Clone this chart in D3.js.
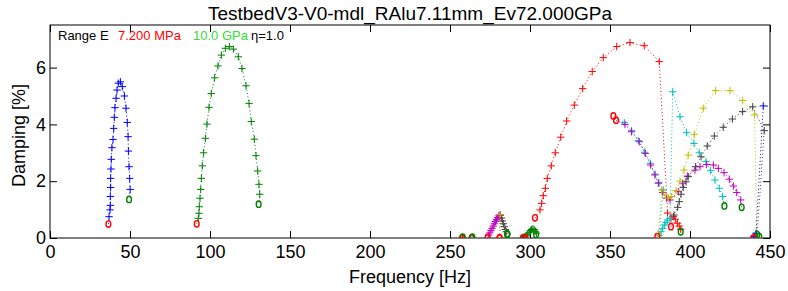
<!DOCTYPE html>
<html>
<head>
<meta charset="utf-8">
<script src="https://cdn.jsdelivr.net/npm/d3@7"></script>
<style>
  body { margin: 0; background: #fff; }
  text { font-family: "Liberation Sans", Arial, sans-serif; }
</style>
</head>
<body>
<div id="chart"></div>
<script>
// ---- data: [frequency Hz, damping %] ----
const chartTitle = "TestbedV3-V0-mdl_RAlu7.11mm_Ev72.000GPa";
const xTicks = [0, 50, 100, 150, 200, 250, 300, 350, 400, 450];
const yTicks = [0, 2, 4, 6];

const mode01 = [[36.5,0.49],[36.9,0.75],[37.5,0.99],[37.7,1.15],[37.7,1.46],[37.9,1.78],[37.9,2.10],[38.1,2.43],
  [38.3,2.77],[38.7,3.18],[39.4,3.47],[39.8,3.86],[40.2,4.25],[40.6,4.59],[41.3,4.92],[41.9,5.21],[42.7,5.45],
  [44.0,5.50],[45.2,5.33],[46.5,5.00],[47.5,4.57],[48.3,4.07],[48.8,3.57],[49.0,3.06],[49.4,2.51],[49.8,2.10],
  [50.1,1.71],[49.4,1.36]];
const mode02 = [[91.7,0.50],[92.7,0.69],[93.1,0.87],[93.3,1.10],[93.75,1.40],[94.2,1.71],[94.6,2.10],[95.2,2.54],
  [96.0,3.00],[97.1,3.51],[98.1,4.01],[99.4,4.60],[100.8,5.09],[102.9,5.64],[105.0,6.06],[107.1,6.44],[109.6,6.68],
  [112.1,6.74],[114.6,6.65],[117.7,6.38],[120.0,5.97],[122.5,5.36],[124.4,4.74],[125.8,4.10],[127.7,3.48],
  [128.75,2.90],[129.8,2.36],[130.6,1.89],[131.1,1.54],[130.4,1.19]];
const mode03 = [[257.5,0.0],[257.8,0.02],[258.0,0.03]];
const mode04 = [[263.5,0.0],[263.8,0.02],[264.0,0.03]];
const mode05 = [[281.0,0.0],[281.5,0.80],[282.2,0.70],[282.8,0.60],[283.4,0.50],[284.0,0.40],[284.6,0.30],
  [285.2,0.22],[285.8,0.14]];
const mode06 = [[273.5,0.02],[274.2,0.10],[274.9,0.18],[275.6,0.26],[276.3,0.34],[277.0,0.42],[277.7,0.50],
  [278.4,0.58],[279.1,0.65],[279.8,0.72],[280.5,0.78],[281.3,0.82],[285.8,0.14]];
const mode07 = [[281.0,0.0],[281.3,0.82],[285.8,0.14]];
const mode08 = [[295.5,0.0],[296.0,0.01],[296.4,0.02]];
const mode09 = [[297.0,0.02],[297.8,0.08],[298.6,0.14],[299.4,0.20],[300.2,0.26],[301.0,0.30],[301.8,0.32],
  [302.6,0.30],[303.3,0.24],[304.0,0.17],[303.8,0.12]];
const mode10 = [[303.1,0.71],[306.25,0.99],[307.3,1.22],[308.3,1.49],[309.6,1.75],[310.8,2.10],[313.3,2.54],
  [315.8,3.00],[319.2,3.55],[322.9,4.12],[327.7,4.68],[332.9,5.26],[338.9,5.86],[345.8,6.35],[354.2,6.74],
  [362.5,6.88],[371.4,6.77],[380.8,6.21],[386.0,0.88],[388.1,0.69],[389.6,0.75],[390.8,0.66],[392.1,0.52],
  [393.3,0.42],[394.2,0.31],[394.2,0.22]];
const mode11 = [[352.1,4.30],[358.9,4.06],[363.5,3.78],[367.7,3.43],[371.5,3.02],[375.2,2.63],[378.1,2.25],
  [380.6,1.95],[383.3,1.69],[380.6,0.08],[381.9,0.22],[382.9,0.34],[384.0,0.46],[385.0,0.55],[386.0,0.63],
  [387.5,0.69],[389.2,5.15],[393.75,4.27],[397.9,3.71],[402.5,3.33],[405.8,3.00],[410.0,2.69],[412.9,2.37],
  [415.6,2.04],[418.3,1.75],[420.4,1.46],[421.5,1.13]];
const mode12 = [[353.75,4.15],[359.4,4.00],[363.5,3.74],[368.3,3.39],[372.1,2.98],[375.4,2.57],[378.1,2.22],
  [380.2,1.93],[382.9,1.60],[385.4,1.40],[387.5,1.34],[392.7,1.63],[395.4,1.93],[398.3,2.18],[403.1,2.39],
  [406.25,2.51],[410.4,2.59],[414.6,2.57],[417.7,2.45],[421.25,2.30],[424.6,2.07],[427.1,1.83],[429.2,1.60],
  [431.7,1.34],[432.3,1.08]];
const mode13 = [[379.6,0.05],[380.3,0.15],[382.3,1.69],[384.4,1.51],[386.5,1.40],[388.5,1.46],[391.25,1.67],
  [393.75,2.00],[396.25,2.39],[398.9,2.92],[402.7,3.65],[408.3,4.57],[416.0,5.19],[425.0,5.19],[432.9,4.84],
  [440.4,4.33],[441.7,0.10],[443.3,0.05]];
const mode14 = [[388.1,0.40],[390.0,0.81],[392.3,1.08],[393.3,1.28],[394.4,1.54],[395.8,1.78],[397.5,1.98],
  [398.9,2.16],[403.5,2.51],[406.9,2.86],[410.8,3.24],[415.2,3.59],[420.8,3.90],[426.5,4.19],[432.9,4.45],
  [439.2,4.62],[446.4,3.78],[442.0,0.12]];
const mode15 = [[439.6,0.0],[440.0,0.05],[441.25,0.17],[445.8,4.65],[456.0,4.62]];

const modes = [mode01, mode02, mode03, mode04, mode05, mode06, mode07, mode08, mode09,
  mode10, mode11, mode12, mode13, mode14, mode15];
// one plot colour per mode (MATLAB colour order)
const modeColors = ["#0000ff", "#008000", "#ff0000", "#00bfbf", "#404040", "#bf00bf", "#bfbf00", "#0000ff",
  "#008000", "#ff0000", "#00bfbf", "#bf00bf", "#bfbf00", "#404040", "#0000ff"];
const legendParts = [
  { text: "Range E", color: "#000000" },
  { text: "7.200 MPa", color: "#ff0000" },
  { text: "10.0 GPa", color: "#33dd33" },
  { text: "\u03b7=1.0", color: "#000000" }
];

// ---- layout ----
const W = 788, H = 291;
const margin = { top: 25, right: 18, bottom: 53, left: 50 };
const width = W - margin.left - margin.right;
const height = H - margin.top - margin.bottom;

const svg = d3.select("#chart").append("svg")
  .attr("width", W)
  .attr("height", H);

const g = svg.append("g")
  .attr("transform", "translate(" + margin.left + "," + margin.top + ")");

const x = d3.scaleLinear().domain([0, 450]).range([0, width]);
const y = d3.scaleLinear().domain([0, 7.5]).range([height, 0]);

g.append("clipPath").attr("id", "plotClip")
  .append("rect").attr("width", width).attr("height", height);

// axes: MATLAB box with inward ticks on all four sides
const tickLen = 7;
const xAxis = g.append("g").attr("transform", "translate(0," + height + ")")
  .call(d3.axisBottom(x).tickValues(xTicks).tickSizeInner(-tickLen).tickSizeOuter(0).tickPadding(7));
g.append("g")
  .call(d3.axisTop(x).tickValues(xTicks).tickSizeInner(-tickLen).tickSizeOuter(0).tickFormat(""));
const yAxis = g.append("g")
  .call(d3.axisLeft(y).tickValues(yTicks).tickSizeInner(-tickLen).tickSizeOuter(0).tickPadding(4));
g.append("g").attr("transform", "translate(" + width + ",0)")
  .call(d3.axisRight(y).tickValues(yTicks).tickSizeInner(-tickLen).tickSizeOuter(0).tickFormat(""));

g.selectAll(".domain").remove();
g.selectAll(".tick line").attr("stroke", "#000");
xAxis.selectAll("text").style("font-size", "18px").attr("fill", "#000");
yAxis.selectAll("text").style("font-size", "18px").attr("fill", "#000");

g.append("rect")
  .attr("width", width).attr("height", height)
  .attr("fill", "none").attr("stroke", "#000").attr("stroke-width", 1);

// ---- the mode tracks ----
const plot = g.append("g").attr("clip-path", "url(#plotClip)");
const line = d3.line().x(d => x(d[0])).y(d => y(d[1]));

modes.forEach((pts, i) => {
  const col = modeColors[i];
  plot.append("path")
    .attr("d", line(pts))
    .attr("fill", "none")
    .attr("stroke", col)
    .attr("stroke-width", 1)
    .attr("stroke-dasharray", "1,2.5");

  // '+' markers for the inner points
  plot.selectAll(null)
    .data(pts.slice(1, -1))
    .enter().append("path")
    .attr("d", d => {
      const cx = x(d[0]), cy = y(d[1]), r = 3.7;
      return "M" + (cx - r) + "," + cy + "H" + (cx + r) + "M" + cx + "," + (cy - r) + "V" + (cy + r);
    })
    .attr("stroke", col)
    .attr("stroke-width", 1);
});

// start (red) and end (green) markers on top
modes.forEach(pts => {
  const ends = [
    { p: pts[0], c: "#ff0000" },
    { p: pts[pts.length - 1], c: "#008000" }
  ];
  plot.selectAll(null)
    .data(ends)
    .enter().append("ellipse")
    .attr("cx", d => x(d.p[0]))
    .attr("cy", d => y(d.p[1]))
    .attr("rx", 2.4)
    .attr("ry", 3.2)
    .attr("fill", "none")
    .attr("stroke", d => d.c)
    .attr("stroke-width", 1.4);
});

// ---- texts ----
svg.append("text")
  .attr("x", margin.left + width / 2)
  .attr("y", 20)
  .attr("text-anchor", "middle")
  .style("font-size", "19px")
  .text(chartTitle);

svg.append("text")
  .attr("x", margin.left + width / 2)
  .attr("y", 283)
  .attr("text-anchor", "middle")
  .style("font-size", "18px")
  .text("Frequency [Hz]");

svg.append("text")
  .attr("transform", "translate(25," + (margin.top + height / 2 + 4) + ") rotate(-90)")
  .attr("text-anchor", "middle")
  .style("font-size", "18px")
  .text("Damping [%]");

const legendX = [58, 118, 193, 251];
const legend = svg.append("text")
  .attr("y", 40)
  .style("font-size", "13px");
legendParts.forEach((p, i) => {
  legend.append("tspan")
    .attr("x", legendX[i])
    .attr("fill", p.color)
    .text(p.text);
});
</script>
</body>
</html>
